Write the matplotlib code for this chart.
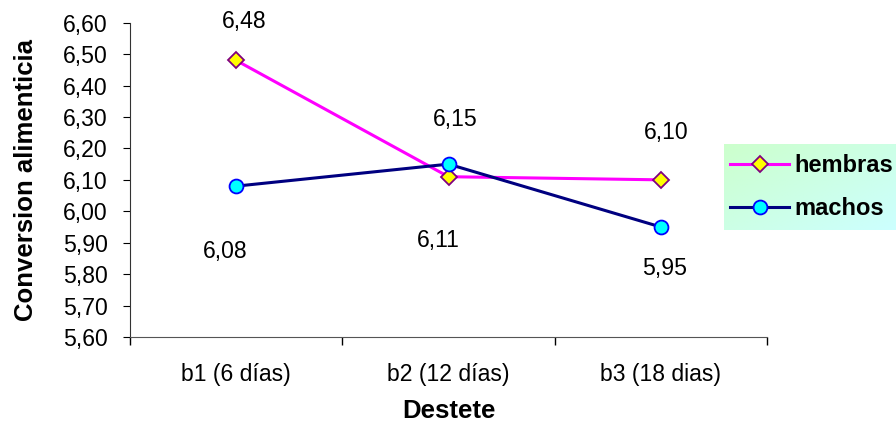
import numpy as np
import matplotlib
matplotlib.use('Agg')
import matplotlib.pyplot as plt
from matplotlib.ticker import FuncFormatter

plt.rcParams['font.family'] = ['Liberation Sans', 'DejaVu Sans']

# data
categories = ['b1 (6 días)', 'b2 (12 días)', 'b3 (18 dias)']
hembras = [6.48, 6.11, 6.10]
machos = [6.08, 6.15, 5.95]

# label offsets in points (dx, dy) for each point
off_h = [(6, 28), (-7, -46), (4, 34)]
off_m = [(-8, -47), (5, 32), (3, -30)]

FS = 16.6      # ticks and data labels
FS_T = 18.5    # axis titles

fig = plt.figure(figsize=(8.96, 4.25), dpi=100)
ax = fig.add_axes([130 / 896, 1 - 337 / 425, 637 / 896, (337 - 22.7) / 425])

x = np.arange(len(categories))
lh, = ax.plot(x, hembras, color='#ff00ff', lw=2.2, marker='D', ms=8.5,
              mfc='#ffff00', mec='#800080', mew=1.3, label='hembras', zorder=3)
lm, = ax.plot(x, machos, color='#000080', lw=2.2, marker='o', ms=10,
              mfc='#00ffff', mec='#0000ff', mew=1.3, label='machos', zorder=4)

for xi, v, o in zip(x, hembras, off_h):
    ax.annotate(f'{v:.2f}'.replace('.', ','), (xi, v), xytext=o, textcoords='offset points',
                ha='center', va='center', fontsize=FS)
for xi, v, o in zip(x, machos, off_m):
    ax.annotate(f'{v:.2f}'.replace('.', ','), (xi, v), xytext=o, textcoords='offset points',
                ha='center', va='center', fontsize=FS)

ax.set_xlim(-0.5, 2.5)
ax.set_ylim(5.6, 6.6)
ax.set_yticks(np.arange(5.6, 6.61, 0.1))
ax.yaxis.set_major_formatter(FuncFormatter(lambda v, p: f'{v:.2f}'.replace('.', ',')))
ax.set_xticks(x)
ax.set_xticklabels(categories)
ax.set_xticks(np.arange(-0.5, 2.6, 1.0), minor=True)
ax.tick_params(axis='x', which='major', length=0, pad=19, labelsize=FS)
ax.tick_params(axis='x', which='minor', length=6, direction='out', width=1)
ax.tick_params(axis='y', length=5, direction='out', labelsize=FS, pad=11)
ax.spines['top'].set_visible(False)
ax.spines['right'].set_visible(False)
ax.spines['left'].set_color('#333333')
ax.spines['bottom'].set_color('#555555')

ax.set_xlabel('Destete', fontsize=FS_T, fontweight='bold', labelpad=9)
ax.set_ylabel('Conversion alimenticia', fontsize=FS_T, fontweight='bold', labelpad=18)

# legend box with green-to-cyan gradient
lx0, ly0, lx1, ly1 = 724, 144, 896, 230
gax = fig.add_axes([lx0 / 896, 1 - ly1 / 425, (lx1 - lx0) / 896, (ly1 - ly0) / 425])
gx, gy = np.meshgrid(np.linspace(0, 1, 64), np.linspace(0, 1, 64))
t = (gx + (1 - gy)) / 2
c0 = np.array([0.80, 1.0, 0.80])
c1 = np.array([0.80, 1.0, 1.0])
grad = c0[None, None, :] * (1 - t[..., None]) + c1[None, None, :] * t[..., None]
gax.imshow(grad[::-1], aspect='auto', extent=[0, 1, 0, 1])
gax.set_axis_off()

fig.legend(handles=[lh, lm], loc='center left', bbox_to_anchor=(730 / 896, 1 - 187 / 425),
           frameon=False, prop={'weight': 'bold', 'size': 17}, handlelength=2.5,
           handletextpad=0.22, labelspacing=0.85, borderaxespad=0, borderpad=0)

fig.savefig('out.png', dpi=100)
